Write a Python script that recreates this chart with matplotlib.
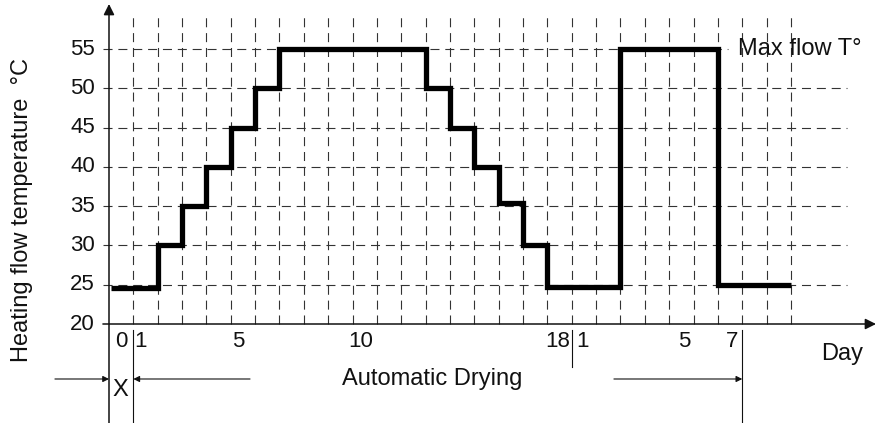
import numpy as np
import matplotlib
matplotlib.use("Agg")
import matplotlib.pyplot as plt

plt.rcParams["font.family"] = ["Liberation Sans", "DejaVu Sans"]
plt.rcParams["lines.scale_dashes"] = False

# step profile: day edges and temperature of each step
step_days = [0.1, 2, 3, 4, 5, 6, 7, 13, 14, 15, 16, 17, 18, 21, 25, 28]
step_temps = [24.6, 30, 35, 40, 45, 50, 55, 50, 45, 40, 35.4, 30, 24.7, 55, 25]

y_ticks = [20, 25, 30, 35, 40, 45, 50, 55]
grid_days = list(range(1, 29))

# x tick labels (text, position in days)
x_labels = ["0", "1", "5", "10", "18", "1", "5", "7"]
x_label_pos = [0.49, 1.29, 5.32, 10.35, 18.41, 19.42, 23.63, 25.56]

fig = plt.figure(figsize=(8.78, 4.23), dpi=100)
ax = fig.add_axes([109 / 878, 99 / 423, 767 / 878, 320 / 423])
ax.set_xlim(0, 31.49)
ax.set_ylim(20, 60.73)
ax.axis("off")

ink = "#111111"
grid_c = "#333333"
dash = (0, (6.5, 4.2))

# dashed grid
for d in grid_days:
    ax.plot([d, d], [20, 59.7], color=grid_c, lw=0.8, linestyle=dash, clip_on=False)
for t in y_ticks[1:]:
    x_end = 25.4 if t == 55 else 30.3
    ax.plot([-0.25, x_end], [t, t], color=grid_c, lw=0.8, linestyle=dash, clip_on=False)

# heating profile
xs = step_days
ys = step_temps + [step_temps[-1]]
ax.step(xs, ys, where="post", color="black", lw=3.8,
        solid_joinstyle="miter", solid_capstyle="butt", clip_on=False, zorder=5)

# axes with arrows
ax.annotate("", xy=(31.49, 20), xytext=(-0.25, 20), annotation_clip=False,
            arrowprops=dict(arrowstyle="-|>", color=ink, lw=1.1,
                            mutation_scale=16, shrinkA=0, shrinkB=0))
ax.annotate("", xy=(0, 60.73), xytext=(0, 7.0), annotation_clip=False,
            arrowprops=dict(arrowstyle="-|>", color=ink, lw=1.1,
                            mutation_scale=16, shrinkA=0, shrinkB=0))

# tick labels
for t in y_ticks:
    ax.text(-0.57, t, str(t), ha="right", va="center", fontsize=16, color=ink)
for lab, p in zip(x_labels, x_label_pos):
    ax.text(p, 17.75, lab, ha="center", va="center", fontsize=16, color=ink)

# separators below the axis
ax.plot([1, 1], [19.24, 7.0], color=ink, lw=0.8, clip_on=False)
ax.plot([19, 19], [19.24, 14.5], color=ink, lw=0.8, clip_on=False)
ax.plot([26, 26], [19.24, 7.0], color=ink, lw=0.8, clip_on=False)

# phase arrows
arr = dict(arrowstyle="-|>", color=ink, lw=0.8, mutation_scale=9, shrinkA=0, shrinkB=0)
ax.annotate("", xy=(0, 13.0), xytext=(-2.22, 13.0), annotation_clip=False, arrowprops=arr)
ax.annotate("", xy=(1, 13.0), xytext=(5.79, 13.0), annotation_clip=False, arrowprops=arr)
ax.annotate("", xy=(26, 13.0), xytext=(20.73, 13.0), annotation_clip=False, arrowprops=arr)

# labels
ax.text(0.45, 11.6, "X", ha="center", va="center", fontsize=17, color=ink)
ax.text(13.26, 12.94, "Automatic Drying", ha="center", va="center", fontsize=17, color=ink)
ax.text(30.09, 16.18, "Day", ha="center", va="center", fontsize=17, color=ink)
ax.text(25.82, 55, "Max flow T°", ha="left", va="center", fontsize=17, color=ink)
ax.text(-3.57, 34.5, "Heating flow temperature  °C", rotation=90,
        ha="center", va="center", fontsize=17, color=ink)

fig.savefig("out.png", dpi=100)
